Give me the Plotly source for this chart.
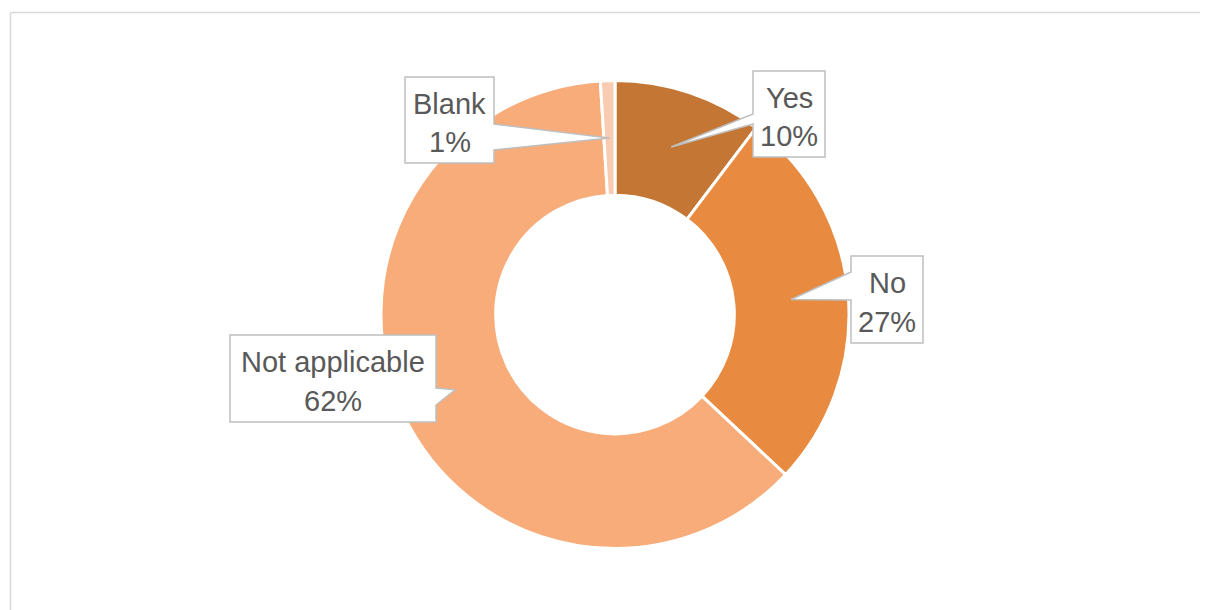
import plotly.graph_objects as go
import math

OFF = 8  # page body margin
W, H = 1208 - OFF, 610 - OFF

categories = ["Yes", "No", "Not applicable", "Blank"]
values = [10.3, 26.7, 62.0, 1.0]
colors = ["#C47634", "#E88B40", "#F7AC79", "#F9CBB0"]

# layout (pixel, in screen coordinates) parameters
cx, cy, R = 615, 314.5, 234
hole = 0.51

# callout boxes: x0, y0, x1, y1, wedge side, wedge base y0, base y1
boxes = {
    "Yes": (753, 71, 825, 157, "left", 114, 124),
    "No": (851, 256, 923, 343, "left", 272, 300),
    "Not applicable": (230, 335, 436, 422, "right", 388, 405),
    "Blank": (405, 77, 494, 163, "right", 124, 150),
}


def px(x):
    return (x - OFF) / W


def py(y):
    return 1 - (y - OFF) / H


fig = go.Figure()
fig.add_trace(go.Pie(
    labels=categories,
    values=values,
    hole=hole,
    sort=False,
    direction="clockwise",
    rotation=0,
    marker=dict(colors=colors, line=dict(color="white", width=3)),
    textinfo="none",
    hoverinfo="label+percent",
    domain=dict(x=[px(cx - 320), px(cx + 320)], y=[py(cy + R), py(cy - R)]),
    showlegend=False,
))

total = sum(values)
cum = 0.0
shapes = []
annotations = []
for cat, v in zip(categories, values):
    mid = (cum + v / 2) / total * 2 * math.pi
    cum += v
    rt = (R + R * hole) / 2
    tx = cx + rt * math.sin(mid)
    ty = cy - rt * math.cos(mid)
    x0, y0, x1, y1, side, b0, b1 = boxes[cat]
    if side == "right":
        pts = [(x0, y0), (x1, y0), (x1, b0), (tx, ty), (x1, b1), (x1, y1), (x0, y1)]
    else:
        pts = [(x0, y0), (x1, y0), (x1, y1), (x0, y1), (x0, b1), (tx, ty), (x0, b0)]
    path = "M " + " L ".join(f"{px(a):.5f},{py(b):.5f}" for a, b in pts) + " Z"
    shapes.append(dict(type="path", path=path, xref="paper", yref="paper",
                       fillcolor="white", line=dict(color="#BFBFBF", width=1.5),
                       layer="above"))
    pct = f"{round(v / total * 100)}%"
    xc = (x0 + x1) / 2
    hgt = y1 - y0
    for txt, frac in ((cat, 0.31), (pct, 0.76)):
        annotations.append(dict(
            text=txt, x=px(xc), y=py(y0 + hgt * frac), xref="paper", yref="paper",
            xanchor="center", yanchor="middle", showarrow=False,
            font=dict(family="Liberation Sans, Arial, sans-serif", size=29, color="#595959"),
        ))

# outer chart frame (only top and left edges are visible)
frame = dict(color="#D9D9D9", width=1.5)
shapes.append(dict(type="line", xref="paper", yref="paper",
                   x0=px(10.5), y0=py(12.5), x1=1.0, y1=py(12.5), line=frame, layer="below"))
shapes.append(dict(type="line", xref="paper", yref="paper",
                   x0=px(10.5), y0=py(12.5), x1=px(10.5), y1=0.0, line=frame, layer="below"))

fig.update_layout(
    width=W, height=H,
    margin=dict(l=0, r=0, t=0, b=0),
    paper_bgcolor="white",
    plot_bgcolor="white",
    shapes=shapes,
    annotations=annotations,
)

fig.write_html("out.html")
